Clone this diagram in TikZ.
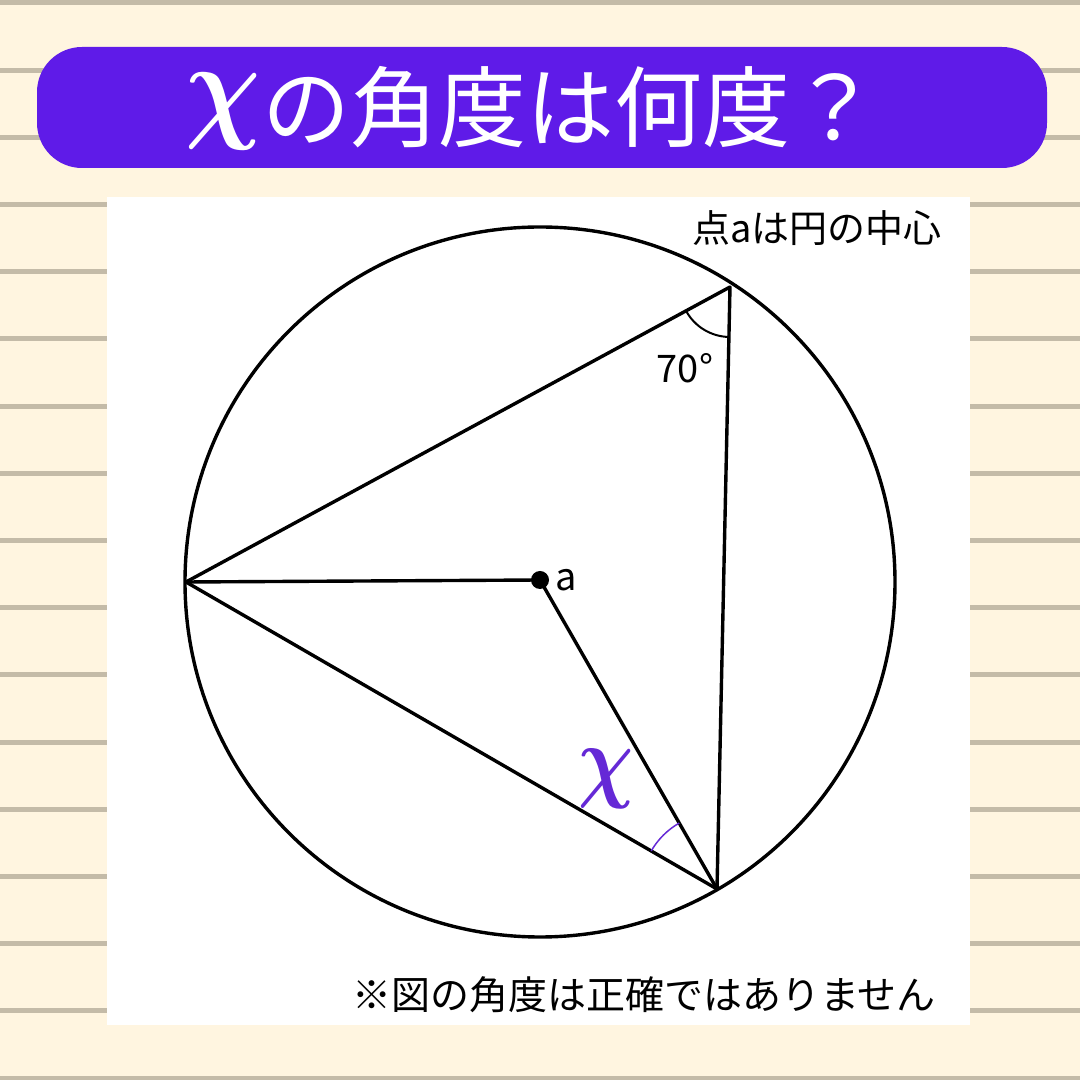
\documentclass[tikz,border=0pt]{standalone}
\usepackage{fontspec}
\setmainfont{Noto Sans CJK JP}
\usepackage{xcolor}
\usetikzlibrary{angles,
	positioning}

\definecolor{paper}{HTML}{FFF5E0}
\definecolor{rulecol}{HTML}{C4BBA8}
\definecolor{banner}{HTML}{5F1BE8}
\definecolor{chicol}{HTML}{6529D6}

\tikzset{
	edge/.style={line width=3.4pt, line cap=round, line join=round},
	note/.style={inner sep=0pt, font=\fontsize{38}{38}\selectfont},
}
\newcommand{\bigchi}[2]{\scalebox{#1}[#2]{\boldmath$\chi$}}

\begin{document}
\begin{tikzpicture}[x=1pt,y=1pt]
        \useasboundingbox (0,0) rectangle (1080,1080);
        \fill [paper] (0,0) rectangle (1080,1080);

        %ruled paper
        \foreach \k in {0,...,16}
            \draw [rulecol, line width=5pt] (0,1077-67.2*\k)--(1080,1077-67.2*\k);

        %title
        \fill [banner, rounded corners=45pt] (37,912) rectangle (1047,1033);
        \node (title) [white, inner sep=0pt, anchor=west] at(185,972)
            {\raisebox{14pt}{\bigchi{10.5}{12}}\hspace{2pt}\fontsize{88}{88}\selectfont の角度は何度？};

        %panel
        \fill [white] (107,55) rectangle (970,883);

        %circle
        \coordinate (o) at(540,498);
        \draw [edge] (o) circle (355);

        \coordinate (L) at(186,498);
        \coordinate (T) at(730,793);
        \coordinate (B) at(717,191);
        \coordinate (ctr) at(540,500);

        \draw [edge] (L)--(T)--(B)--cycle;
        \draw [edge] (L)--(ctr)--(B);
        \fill (ctr) circle (9);
        \node (alabel) [note] at(566,500) {a};

        %angles
        \path pic [draw, line width=2pt, angle radius=50pt] {angle=L--T--B};
        \node (seventy) [note] at(685,712) {70°};

        \path pic [draw=chicol, line width=1.5pt, angle radius=76pt] {angle=ctr--B--L};
        \node (xlabel) [text=chicol, inner sep=0pt] at(606,301) {\bigchi{7.7}{9.3}};

        %notes
        \node (center note) [note] at(817,852) {点aは円の中心};
        \node (warn note) [note, font=\fontsize{39}{39}\selectfont] at(644,85) {※図の角度は正確ではありません};
    \end{tikzpicture}
\end{document}
